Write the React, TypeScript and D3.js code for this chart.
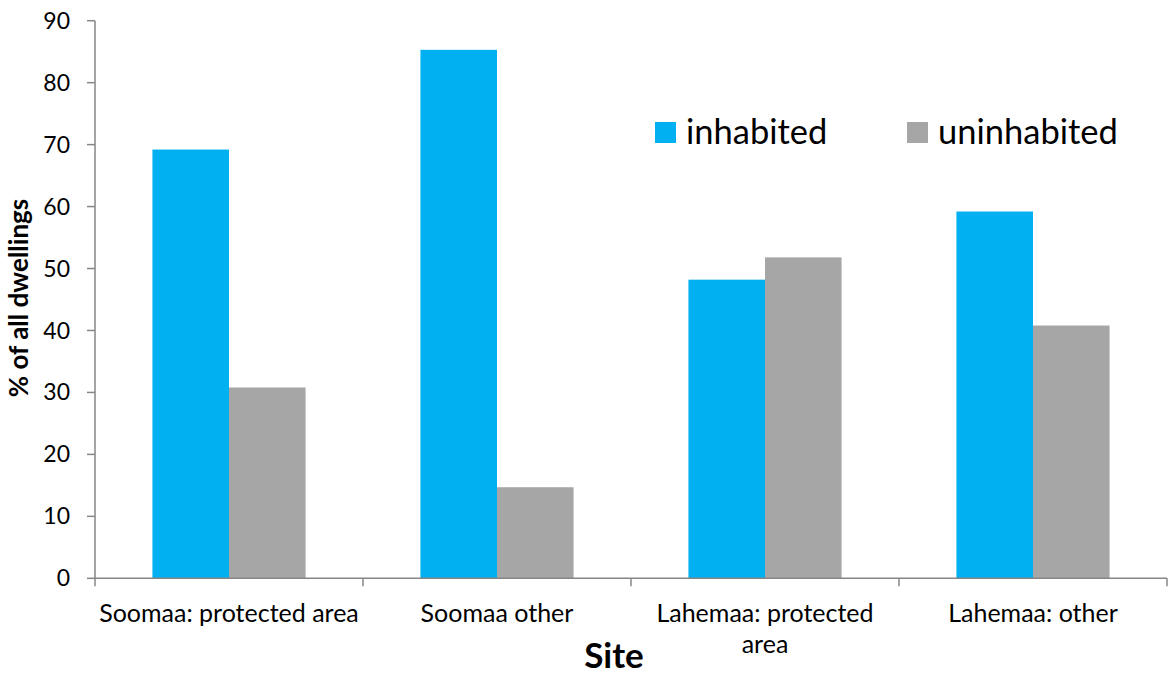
import React from "react";
import * as d3 from "d3";

const categories = [
  ["Soomaa: protected area"],
  ["Soomaa other"],
  ["Lahemaa: protected", "area"],
  ["Lahemaa: other"],
];
const seriesNames = ["inhabited", "uninhabited"];
const inhabited = [69.2, 85.3, 48.2, 59.2];
const uninhabited = [30.8, 14.7, 51.8, 40.8];
const yTicks = [0, 10, 20, 30, 40, 50, 60, 70, 80, 90];
const colors = ["#00B0F0", "#A6A6A6"];

const W = 1171;
const H = 677;
const FONT = "Lato, 'Open Sans', sans-serif";

export default function App() {
  const left = 95;
  const right = 1167;
  const top = 20.7;
  const bottom = 578.3;

  const y = d3.scaleLinear().domain([0, 90]).range([bottom, top]);
  const x = d3
    .scaleBand<number>()
    .domain(d3.range(categories.length))
    .range([left, right])
    .paddingInner(0)
    .paddingOuter(0);
  const bandW = x.bandwidth();
  const gap = 1.5;
  const bw = bandW / (2 + gap);
  const series = [inhabited, uninhabited];

  return (
    <svg
      width={W}
      height={H}
      style={{ position: "absolute", left: 0, top: 0, background: "#fff" }}
      fontFamily={FONT}
    >
      {/* bars */}
      {series.map((vals, si) =>
        vals.map((v, ci) => {
          const x0 = (x(ci) as number) + (bw * gap) / 2 + si * bw;
          return (
            <rect
              key={`${si}-${ci}`}
              x={x0}
              y={y(v)}
              width={bw}
              height={y(0) - y(v)}
              fill={colors[si]}
            />
          );
        })
      )}

      {/* y axis */}
      <line x1={left} x2={left} y1={top} y2={bottom} stroke="#868686" strokeWidth={1.5} />
      {yTicks.map((t) => (
        <g key={t}>
          <line x1={left - 8} x2={left} y1={y(t)} y2={y(t)} stroke="#868686" strokeWidth={1.5} />
          <text x={70} y={y(t)} dy="0.35em" textAnchor="end" fontSize={23} fill="#000">
            {t}
          </text>
        </g>
      ))}

      {/* x axis */}
      <line x1={left} x2={right} y1={bottom} y2={bottom} stroke="#868686" strokeWidth={1.5} />
      {d3.range(categories.length + 1).map((i) => {
        const xx = i < categories.length ? (x(i) as number) : right;
        return (
          <line key={i} x1={xx} x2={xx} y1={bottom} y2={bottom + 8} stroke="#868686" strokeWidth={1.5} />
        );
      })}
      {categories.map((lines, ci) => (
        <text
          key={ci}
          x={(x(ci) as number) + bandW / 2}
          y={622}
          textAnchor="middle"
          fontSize={25}
          fill="#000"
        >
          {lines.map((l, li) => (
            <tspan key={li} x={(x(ci) as number) + bandW / 2} dy={li === 0 ? 0 : 31}>
              {l}
            </tspan>
          ))}
        </text>
      ))}

      {/* axis titles */}
      <text x={614} y={668} textAnchor="middle" fontSize={35} fontWeight="bold" fill="#000">
        Site
      </text>
      <text
        transform={`translate(28, ${298}) rotate(-90)`}
        textAnchor="middle"
        fontSize={26}
        fontWeight="bold"
        fill="#000"
      >
        % of all dwellings
      </text>

      {/* legend */}
      {seriesNames.map((n, i) => {
        const lx = i === 0 ? 655 : 907;
        return (
          <g key={n}>
            <rect x={lx} y={122} width={21} height={21} fill={colors[i]} />
            <text x={lx + 31} y={144} fontSize={34.5} fill="#000">
              {n}
            </text>
          </g>
        );
      })}
    </svg>
  );
}
